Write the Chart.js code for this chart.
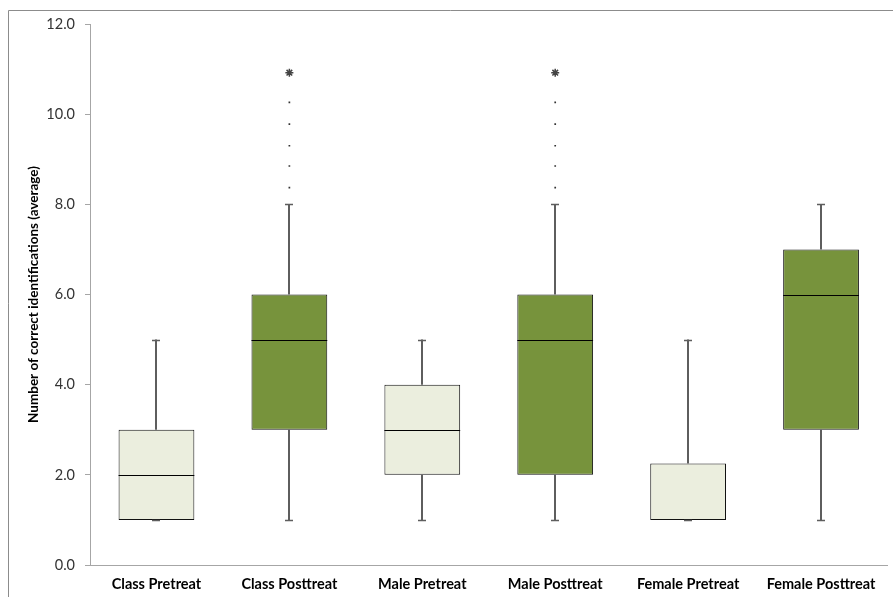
<!DOCTYPE html>
<html>
<head>
<meta charset="utf-8">
<script src="https://cdn.jsdelivr.net/npm/chart.js@4/dist/chart.umd.min.js"></script>
<style>
  html, body { margin: 0; padding: 0; background: #fff; }
  #wrap { width: 893px; height: 597px; position: relative; }
</style>
</head>
<body>
<div id="wrap"><canvas id="c"></canvas></div>
<script>
// Groups on the x axis
const categories = ['Class Pretreat', 'Class Posttreat', 'Male Pretreat', 'Male Posttreat', 'Female Pretreat', 'Female Posttreat'];

// Five-number summaries per group
const mins    = [1, 1, 1, 1, 1, 1];
const q1s     = [1, 3, 2, 2, 1, 3];
const medians = [2, 5, 3, 5, 1, 6];
const q3s     = [3, 6, 4, 6, 2.25, 7];
const maxs    = [5, 8, 5, 8, 5, 8];

// Dotted extension above the upper whisker, and the extreme value (asterisk)
const dotGroups = ['Class Posttreat', 'Class Posttreat', 'Class Posttreat', 'Class Posttreat', 'Class Posttreat',
                   'Male Posttreat', 'Male Posttreat', 'Male Posttreat', 'Male Posttreat', 'Male Posttreat'];
const dotValues = [8.37, 8.85, 9.30, 9.78, 10.26, 8.37, 8.85, 9.30, 9.78, 10.26];
const extremeGroups = ['Class Posttreat', 'Male Posttreat'];
const extremeValues = [10.92, 10.92];

// Y axis ticks
const yTicks = [0, 2, 4, 6, 8, 10, 12];

const LIGHT = '#EBEEDE';
const DARK = '#77933C';
const boxColors = categories.map((c, i) => (i % 2 === 0 ? LIGHT : DARK));

// Whiskers, caps and median lines drawn on top of the boxes
const boxPlotPlugin = {
  id: 'boxPlotParts',
  beforeDraw(chart) {
    const ctx = chart.ctx;
    ctx.save();
    ctx.strokeStyle = '#8C8C8C';
    ctx.lineWidth = 1;
    ctx.beginPath();
    ctx.moveTo(8.5, chart.height);
    ctx.lineTo(8.5, 10.5);
    ctx.lineTo(chart.width, 10.5);
    ctx.stroke();
    ctx.restore();
  },
  afterDatasetsDraw(chart) {
    const ctx = chart.ctx;
    const y = chart.scales.y;
    const meta = chart.getDatasetMeta(0);
    ctx.save();
    meta.data.forEach((bar, i) => {
      const cx = Math.round(bar.x);
      const half = bar.width / 2;
      // whiskers
      ctx.strokeStyle = '#5E5E5E';
      ctx.lineWidth = 2;
      ctx.beginPath();
      ctx.moveTo(cx, y.getPixelForValue(q3s[i]));
      ctx.lineTo(cx, y.getPixelForValue(maxs[i]));
      if (q1s[i] > mins[i]) {
        ctx.moveTo(cx, y.getPixelForValue(q1s[i]));
        ctx.lineTo(cx, y.getPixelForValue(mins[i]));
      }
      ctx.stroke();
      // caps
      ctx.lineWidth = 1.5;
      ctx.beginPath();
      [maxs[i], mins[i]].forEach(v => {
        const py = Math.round(y.getPixelForValue(v)) + 0.5;
        ctx.moveTo(cx - 4, py);
        ctx.lineTo(cx + 4, py);
      });
      ctx.stroke();
      // median (hidden by the box edge when it equals a quartile)
      if (medians[i] > q1s[i] && medians[i] < q3s[i]) {
        ctx.strokeStyle = '#000';
        ctx.lineWidth = 1;
        const my = Math.round(y.getPixelForValue(medians[i])) + 0.5;
        ctx.beginPath();
        ctx.moveTo(bar.x - half, my);
        ctx.lineTo(bar.x + half, my);
        ctx.stroke();
      }
    });
    ctx.restore();
  }
};

new Chart(document.getElementById('c'), {
  type: 'bar',
  data: {
    labels: categories,
    datasets: [
      {
        label: 'Box',
        data: categories.map((c, i) => [q1s[i], q3s[i]]),
        backgroundColor: boxColors,
        borderColor: '#111',
        borderWidth: 1,
        borderSkipped: false,
        categoryPercentage: 1,
        barPercentage: 0.57,
        order: 2
      },
      {
        type: 'line',
        label: 'Dots',
        data: dotGroups.map((g, i) => ({ x: g, y: dotValues[i] })),
        showLine: false,
        pointStyle: 'rect',
        pointRadius: 1.2,
        backgroundColor: '#333',
        borderColor: '#333',
        borderWidth: 0,
        order: 1
      },
      {
        type: 'line',
        label: 'Extreme',
        data: extremeGroups.map((g, i) => ({ x: g, y: extremeValues[i] })),
        showLine: false,
        pointStyle: 'star',
        pointRadius: 4,
        borderColor: '#444',
        borderWidth: 1.5,
        order: 1
      }
    ]
  },
  options: {
    responsive: true,
    maintainAspectRatio: false,
    devicePixelRatio: 1,
    animation: false,
    layout: { padding: { left: 0, top: 24, right: 3, bottom: 0 } },
    plugins: {
      legend: { display: false },
      tooltip: { enabled: false }
    },
    scales: {
      x: {
        offset: true,
        grid: { display: false, drawTicks: false },
        border: { color: '#A6A6A6', width: 1 },
        ticks: {
          color: '#000',
          padding: 11,
          font: { family: 'Lato', size: 14.5, weight: 'bold' },
          maxRotation: 0
        },
        afterFit(scale) { scale.height = 32; }
      },
      y: {
        min: 0,
        max: 12,
        afterBuildTicks(scale) { scale.ticks = yTicks.map(v => ({ value: v })); },
        grid: { drawOnChartArea: false, drawTicks: true, tickLength: 5, color: '#A6A6A6' },
        border: { color: '#A6A6A6', width: 1 },
        ticks: {
          color: '#333',
          padding: 10,
          font: { family: 'Lato', size: 14.5 },
          callback: v => Number(v).toFixed(1)
        },
        title: {
          display: true,
          text: 'Number of correct identifications (average)',
          color: '#000',
          font: { family: 'Lato', size: 13.5, weight: 'bold' },
          padding: { top: 26, bottom: 0 }
        },
        afterFit(scale) { scale.width = 90; }
      }
    }
  },
  plugins: [boxPlotPlugin]
});
</script>
</body>
</html>
